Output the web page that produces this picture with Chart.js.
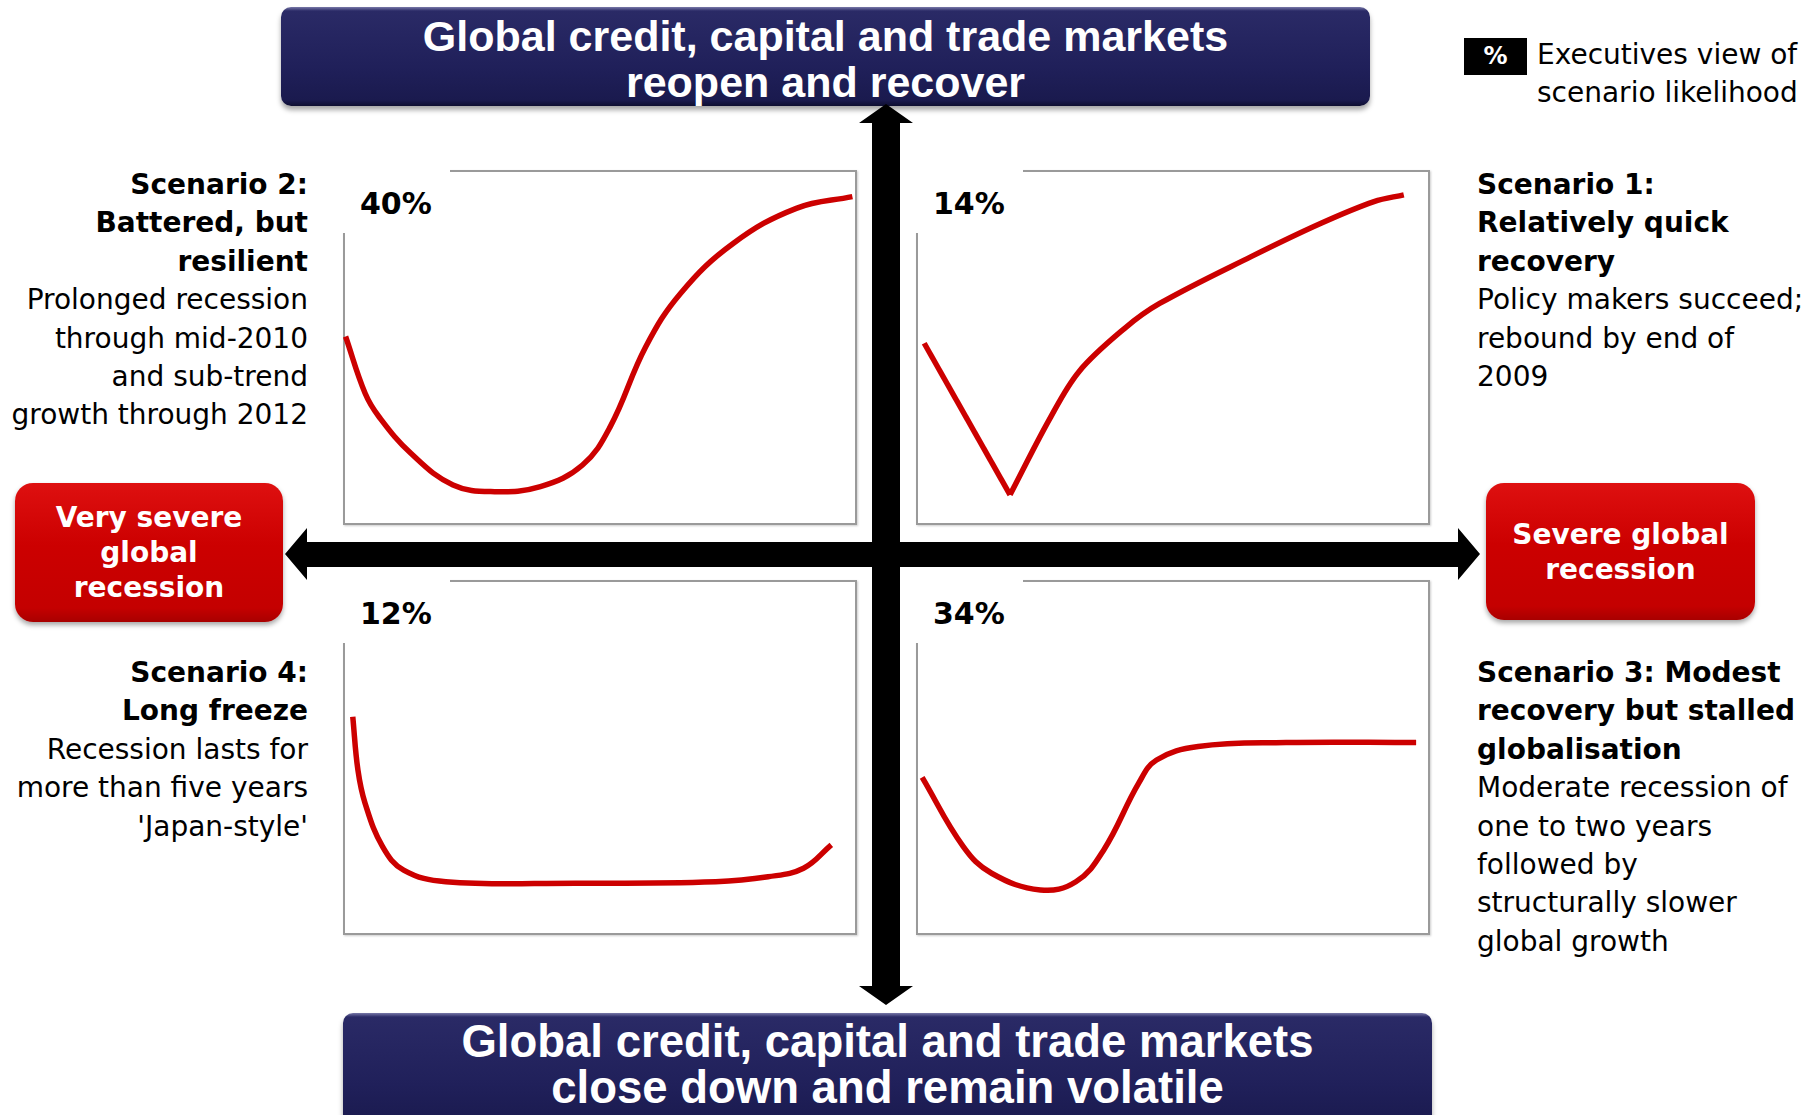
<!DOCTYPE html>
<html>
<head>
<meta charset="utf-8">
<script src="https://cdn.jsdelivr.net/npm/chart.js@4.4.1/dist/chart.umd.min.js"></script>
<style>
body { margin: 0; width: 1816px; height: 1115px; overflow: hidden; background: #fff; position: relative; font-family: "DejaVu Sans", Verdana, sans-serif; }
.banner { position: absolute; border-radius: 10px; color: #fff; text-align: center;
  font-family: "Liberation Sans", Arial, sans-serif; font-weight: bold; font-size: 43px; line-height: 46px;
  background: linear-gradient(to bottom, #7878a8 0px, #2a2a66 4px, #20205a 60%, #1a1a4e 94%, #0e0e30 100%);
  box-shadow: 0 4px 5px rgba(0,0,0,0.35); }
.redbox { position: absolute; border-radius: 18px; color: #fff; text-align: center;
  font-weight: bold; font-size: 28px; line-height: 35px;
  background: linear-gradient(to bottom, #de1010 0%, #cc0000 45%, #c40000 90%, #a80000 100%);
  box-shadow: 0 3px 5px rgba(0,0,0,0.35); display: flex; align-items: center; justify-content: center; }
.panel { position: absolute; width: 514px; height: 355px; box-sizing: border-box; border: 2px solid #9a9a9a;
  box-shadow: 1px 1px 2px rgba(0,0,0,0.2); background: #fff; }
.panel canvas { position: absolute; left: -2px; top: -2px; }
.tag { position: absolute; left: -3px; top: -3px; width: 108px; height: 64px; background: #fff;
  font-weight: bold; font-size: 30px; line-height: 30px; padding: 20px 0 0 18px; box-sizing: border-box; color: #000; }
.txt { position: absolute; font-size: 28px; line-height: 38.4px; color: #000; white-space: nowrap; }
.txt b { font-weight: bold; }
.left { left: 0; width: 308px; text-align: right; }
.right { left: 1477px; text-align: left; }
</style>
</head>
<body>

<div class="banner" style="left:281px; top:7px; width:1089px; height:99px; padding-top:6px; box-sizing:border-box;">Global credit, capital and trade markets<br>reopen and recover</div>
<div class="banner" style="left:343px; top:1013px; width:1089px; height:120px; padding-top:6px; box-sizing:border-box; font-size:45.5px;">Global credit, capital and trade markets<br>close down and remain volatile</div>

<div class="redbox" style="left:15px; top:483px; width:268px; height:139px;"><div>Very severe<br>global<br>recession</div></div>
<div class="redbox" style="left:1486px; top:483px; width:269px; height:137px;"><div>Severe global<br>recession</div></div>

<svg style="position:absolute; left:0; top:0;" width="1816" height="1115">
  <polygon fill="#000" points="886,104 913,123 900,123 900,986 913,986 886,1005 859,986 872,986 872,123 859,123"/>
  <polygon fill="#000" points="285,554 307,528 307,542 1458,542 1458,528 1480,554 1458,580 1458,567 307,567 307,580"/>
</svg>

<div id="p2" class="panel" style="left:343px; top:170px;"><canvas id="c2" width="514" height="355"></canvas><div class="tag" id="t2"></div></div>
<div id="p1" class="panel" style="left:916px; top:170px;"><canvas id="c1" width="514" height="355"></canvas><div class="tag" id="t1"></div></div>
<div id="p4" class="panel" style="left:343px; top:580px;"><canvas id="c4" width="514" height="355"></canvas><div class="tag" id="t4"></div></div>
<div id="p3" class="panel" style="left:916px; top:580px;"><canvas id="c3" width="514" height="355"></canvas><div class="tag" id="t3"></div></div>

<div class="txt left" style="top:166px;"><b>Scenario 2:</b><br><b>Battered, but</b><br><b>resilient</b><br>Prolonged recession<br>through mid-2010<br>and sub-trend<br>growth through 2012</div>
<div class="txt right" style="top:166px;"><b>Scenario 1:</b><br><b>Relatively quick</b><br><b>recovery</b><br>Policy makers succeed;<br>rebound by end of<br>2009</div>
<div class="txt left" style="top:654px;"><b>Scenario 4:</b><br><b>Long freeze</b><br>Recession lasts for<br>more than five years<br>'Japan-style'</div>
<div class="txt right" style="top:654px;"><b>Scenario 3: Modest</b><br><b>recovery but stalled</b><br><b>globalisation</b><br>Moderate recession of<br>one to two years<br>followed by<br>structurally slower<br>global growth</div>

<div style="position:absolute; left:1464px; top:38px; width:63px; height:37px; background:#000; color:#fff; font-weight:bold; font-size:24px; line-height:37px; text-align:center;">%</div>
<div class="txt" style="left:1537px; top:36px; line-height:38px;">Executives view of<br>scenario likelihood</div>

<script>
// likelihood shown in the corner of each panel
var likelihood = { s1: '14%', s2: '40%', s3: '34%', s4: '12%' };

// growth paths, x and y as percent of the panel
var s2x = [0.5, 4.3, 7.0, 13.2, 21.4, 29.5, 38.4, 46.6, 52.0, 58.9, 65.7, 75.9, 88.2, 99.1];
var s2y = [53.1, 37.1, 30.5, 20.2, 11.3, 9.4, 10.8, 16.9, 27.7, 50.2, 65.3, 79.3, 89.2, 92.5];

// scenario 1 falls straight to the trough, then recovers
var s1downX = [1.6, 18.3];
var s1downY = [51.2, 8.5];
var s1upX = [18.3, 25.9, 31.7, 40.6, 47.4, 65.2, 78.8, 89.1, 94.9];
var s1upY = [8.5, 29.6, 43.2, 55.4, 62.4, 75.6, 85.0, 91.1, 93.0];

var s4x = [1.9, 2.9, 4.3, 7.7, 11.8, 20.0, 45.2, 72.5, 82.7, 89.6, 95.0];
var s4y = [61.5, 46.5, 37.1, 24.9, 18.3, 15.0, 14.6, 15.0, 16.4, 18.8, 25.4];

var s3x = [1.2, 9.2, 14.7, 24.2, 31.1, 36.5, 43.3, 46.8, 54.9, 72.0, 97.3];
var s3y = [44.4, 24.9, 17.4, 12.7, 15.0, 23.9, 42.7, 49.3, 53.1, 54.2, 54.2];

function toPoints(xs, ys) {
    var pts = [];
    for (var i = 0; i < xs.length; i++) {
        pts.push({ x: xs[i], y: ys[i] });
    }
    return pts;
}

function pathSet(xs, ys, tension) {
    return {
        data: toPoints(xs, ys),
        borderColor: '#cc0000',
        borderWidth: 5.5,
        pointRadius: 0,
        fill: false,
        tension: tension,
        clip: false
    };
}

function drawPanel(canvasId, datasets) {
    var ctx = document.getElementById(canvasId).getContext('2d');
    return new Chart(ctx, {
        type: 'line',
        data: { datasets: datasets },
        options: {
            responsive: false,
            animation: false,
            layout: { padding: 0 },
            scales: {
                x: { type: 'linear', min: 0, max: 100, display: false },
                y: { type: 'linear', min: 0, max: 100, display: false }
            },
            plugins: { legend: { display: false }, tooltip: { enabled: false } }
        }
    });
}

drawPanel('c2', [pathSet(s2x, s2y, 0.4)]);
drawPanel('c1', [pathSet(s1downX, s1downY, 0), pathSet(s1upX, s1upY, 0.35)]);
drawPanel('c4', [pathSet(s4x, s4y, 0.4)]);
drawPanel('c3', [pathSet(s3x, s3y, 0.4)]);

document.getElementById('t1').textContent = likelihood.s1;
document.getElementById('t2').textContent = likelihood.s2;
document.getElementById('t3').textContent = likelihood.s3;
document.getElementById('t4').textContent = likelihood.s4;
</script>
</body>
</html>
